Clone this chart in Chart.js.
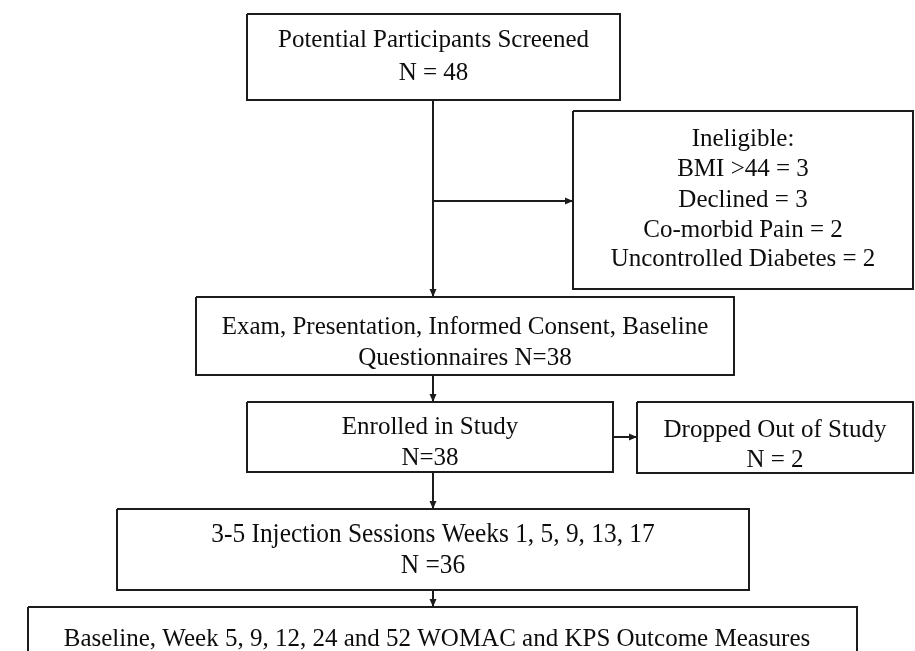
<!DOCTYPE html>
<html>
<head>
<meta charset="utf-8">
<title>Study flow</title>
<script src="https://cdn.jsdelivr.net/npm/chart.js@4.4.1/dist/chart.umd.min.js"></script>
<style>
    html, body { margin: 0; padding: 0; background: #fff; }
    #wrap { width: 915px; height: 651px; }
</style>
</head>
<body>
<div id="wrap"><canvas id="flowChart" width="915" height="651"></canvas></div>
<script>
// Box texts (one line per entry)
const screenedLines = ['Potential Participants Screened', 'N = 48'];
const ineligibleLines = ['Ineligible:', 'BMI >44 = 3', 'Declined = 3', 'Co-morbid Pain = 2', 'Uncontrolled Diabetes = 2'];
const consentLines = ['Exam, Presentation, Informed Consent, Baseline', 'Questionnaires N=38'];
const enrolledLines = ['Enrolled in Study', 'N=38'];
const droppedLines = ['Dropped Out of Study', 'N = 2'];
const injectionLines = ['3-5 Injection Sessions Weeks 1, 5, 9, 13, 17', 'N =36'];
const outcomeLines = ['Baseline, Week 5, 9, 12, 24 and 52 WOMAC and KPS Outcome Measures'];

// Layout in chart units (x 0-915, y 0-651 from top)
const boxes = [
    { lines: screenedLines,  x0: 247, y0: 14,  x1: 620, y1: 100, base: [47, 80] },
    { lines: ineligibleLines, x0: 573, y0: 111, x1: 913, y1: 289, base: [146, 176, 207, 237, 266] },
    { lines: consentLines,   x0: 196, y0: 297, x1: 734, y1: 375, base: [334, 365] },
    { lines: enrolledLines,  x0: 247, y0: 402, x1: 613, y1: 472, base: [434, 465] },
    { lines: droppedLines,   x0: 637, y0: 402, x1: 913, y1: 473, base: [437, 467] },
    { lines: injectionLines, x0: 117, y0: 509, x1: 749, y1: 590, base: [542, 573], size: 27, squeeze: 0.94 },
    { lines: outcomeLines,   x0: 28,  y0: 607, x1: 857, y1: 670, base: [646], tx: 437 }
];

const arrows = [
    [[433, 100], [433, 297]],
    [[433, 201], [573, 201]],
    [[433, 375], [433, 402]],
    [[613, 437], [637, 437]],
    [[433, 472], [433, 509]],
    [[433, 590], [433, 607]]
];

const ink = '#1c1c1c';

const datasets = [];
boxes.forEach(b => {
    datasets.push({
        kind: 'box',
        data: [
            { x: b.x0, y: b.y0 }, { x: b.x1, y: b.y0 }, { x: b.x1, y: b.y1 },
            { x: b.x0, y: b.y1 }, { x: b.x0, y: b.y0 }
        ],
        borderColor: ink,
        borderWidth: 2,
        pointRadius: 0,
        showLine: true,
        fill: false,
        tension: 0,
        borderJoinStyle: 'miter'
    });
});
arrows.forEach(a => {
    datasets.push({
        kind: 'arrow',
        data: [{ x: a[0][0], y: a[0][1] }, { x: a[1][0], y: a[1][1] }],
        borderColor: ink,
        borderWidth: 2,
        pointRadius: 0,
        showLine: true,
        fill: false
    });
});

// Text and arrowheads, placed with the chart scales
const flowPlugin = {
    id: 'flowText',
    afterDatasetsDraw(chart) {
        const ctx = chart.ctx;
        const xs = chart.scales.x;
        const ys = chart.scales.y;

        ctx.save();
        ctx.fillStyle = '#0d0d0d';
        ctx.textAlign = 'center';
        ctx.textBaseline = 'alphabetic';
        boxes.forEach(b => {
            ctx.font = (b.size || 25) + 'px "Liberation Serif", "Times New Roman", serif';
            const cx = xs.getPixelForValue(b.tx || (b.x0 + b.x1) / 2);
            b.lines.forEach((line, i) => {
                const py = ys.getPixelForValue(b.base[i]);
                ctx.save();
                ctx.translate(cx, py);
                ctx.scale(b.squeeze || 1, 1);
                ctx.fillText(line, 0, 0);
                ctx.restore();
            });
        });

        // arrowheads at the end of each arrow line
        ctx.fillStyle = ink;
        chart.data.datasets.forEach((ds, i) => {
            if (ds.kind !== 'arrow') return;
            const pts = chart.getDatasetMeta(i).data;
            const p0 = pts[0], p1 = pts[1];
            const ang = Math.atan2(p1.y - p0.y, p1.x - p0.x);
            const len = 8, half = 3.5;
            ctx.beginPath();
            ctx.moveTo(p1.x, p1.y);
            ctx.lineTo(p1.x - len * Math.cos(ang) + half * Math.sin(ang), p1.y - len * Math.sin(ang) - half * Math.cos(ang));
            ctx.lineTo(p1.x - len * Math.cos(ang) - half * Math.sin(ang), p1.y - len * Math.sin(ang) + half * Math.cos(ang));
            ctx.closePath();
            ctx.fill();
        });
        ctx.restore();
    }
};

document.addEventListener('DOMContentLoaded', function() {
    const ctx = document.getElementById('flowChart').getContext('2d');
    new Chart(ctx, {
        type: 'scatter',
        data: { datasets: datasets },
        options: {
            responsive: false,
            animation: false,
            events: [],
            layout: { padding: 0 },
            plugins: {
                legend: { display: false },
                tooltip: { enabled: false },
                title: { display: false }
            },
            scales: {
                x: { type: 'linear', min: 0, max: 915, display: false },
                y: { type: 'linear', min: 0, max: 651, reverse: true, display: false }
            }
        },
        plugins: [flowPlugin]
    });
});
</script>
</body>
</html>
